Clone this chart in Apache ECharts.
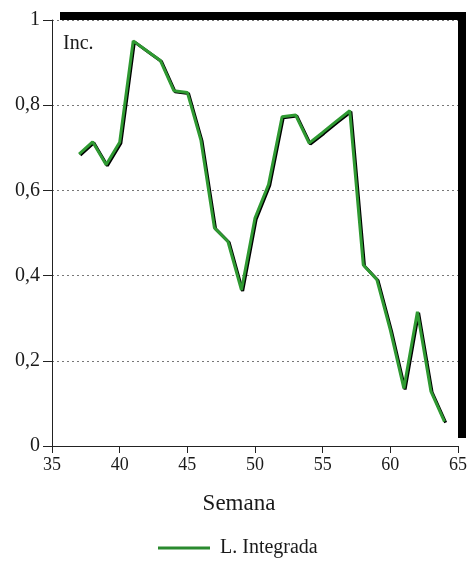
<!DOCTYPE html>
<html>
<head>
<meta charset="utf-8">
<script src="https://cdn.jsdelivr.net/npm/echarts@6/dist/echarts.min.js"></script>
<style>
html,body{margin:0;padding:0;background:#fff;}
#c{width:470px;height:561px;}
</style>
</head>
<body>
<div id="c"></div>
<script>
const weeks = [37,38,39,40,41,42,43,44,45,46,47,48,49,50,51,52,53,54,55,56,57,58,59,60,61,62,63,64];
const incidencia = [0.685,0.714,0.660,0.713,0.951,0.928,0.905,0.834,0.830,0.718,0.512,0.480,0.366,0.535,0.614,0.773,0.777,0.711,0.736,0.762,0.787,0.425,0.391,0.272,0.135,0.315,0.128,0.057];
const seriesName = 'L. Integrada';
const yTicks = {0:'0',0.2:'0,2',0.4:'0,4',0.6:'0,6',0.8:'0,8',1:'1'};

const chart = echarts.init(document.getElementById('c'));
const serif = 'Liberation Serif, Times New Roman, serif';
chart.setOption({
  animation: false,
  backgroundColor: '#fff',
  title: {
    text: 'Inc.', left: 58, top: 29,
    textStyle: {fontFamily: serif, fontSize: 20, fontWeight: 'normal', color: '#1a1a1a'}
  },
  grid: {
    left: 52, right: 10, top: 20, bottom: 115,
    show: true, backgroundColor: '#fff', borderWidth: 0,
    shadowColor: '#000', shadowBlur: 0, shadowOffsetX: 8, shadowOffsetY: -8
  },
  xAxis: {
    type: 'value', min: 35, max: 65, interval: 5,
    name: 'Semana', nameLocation: 'middle', nameGap: 46,
    nameTextStyle: {fontFamily: serif, fontSize: 23, color: '#1a1a1a', padding: [0, 32, 0, 0]},
    axisLine: {show: true, lineStyle: {color: '#222', width: 1}},
    axisTick: {show: true, inside: false, length: 7, lineStyle: {color: '#222'}},
    axisLabel: {fontFamily: serif, fontSize: 18, color: '#1a1a1a', margin: 10},
    splitLine: {show: false}
  },
  yAxis: {
    type: 'value', min: 0, max: 1, interval: 0.2,
    axisLine: {show: true, lineStyle: {color: '#222', width: 1}},
    axisTick: {show: true, inside: false, length: 9, lineStyle: {color: '#222'}},
    axisLabel: {fontFamily: serif, fontSize: 20, color: '#1a1a1a', margin: 12,
      formatter: v => yTicks[Math.round(v*10)/10] !== undefined ? yTicks[Math.round(v*10)/10] : ''},
    splitLine: {show: true, lineStyle: {color: '#777', width: 1, type: [2,3]}}
  },
  legend: {
    left: 153, top: 533, itemWidth: 52, itemHeight: 3, itemGap: 10,
    textStyle: {fontFamily: serif, fontSize: 20, color: '#1a1a1a', padding: [0,0,0,5]},
    data: [{name: seriesName, icon: 'rect'}]
  },
  series: [{
    name: seriesName, type: 'line',
    data: weeks.map((w, i) => [w, incidencia[i]]),
    symbol: 'none',
    color: '#2a8a2e',
    lineStyle: {color: '#2f9a32', width: 3, shadowColor: '#000', shadowBlur: 0, shadowOffsetX: 1.2, shadowOffsetY: 1}
  }]
});
</script>
</body>
</html>
